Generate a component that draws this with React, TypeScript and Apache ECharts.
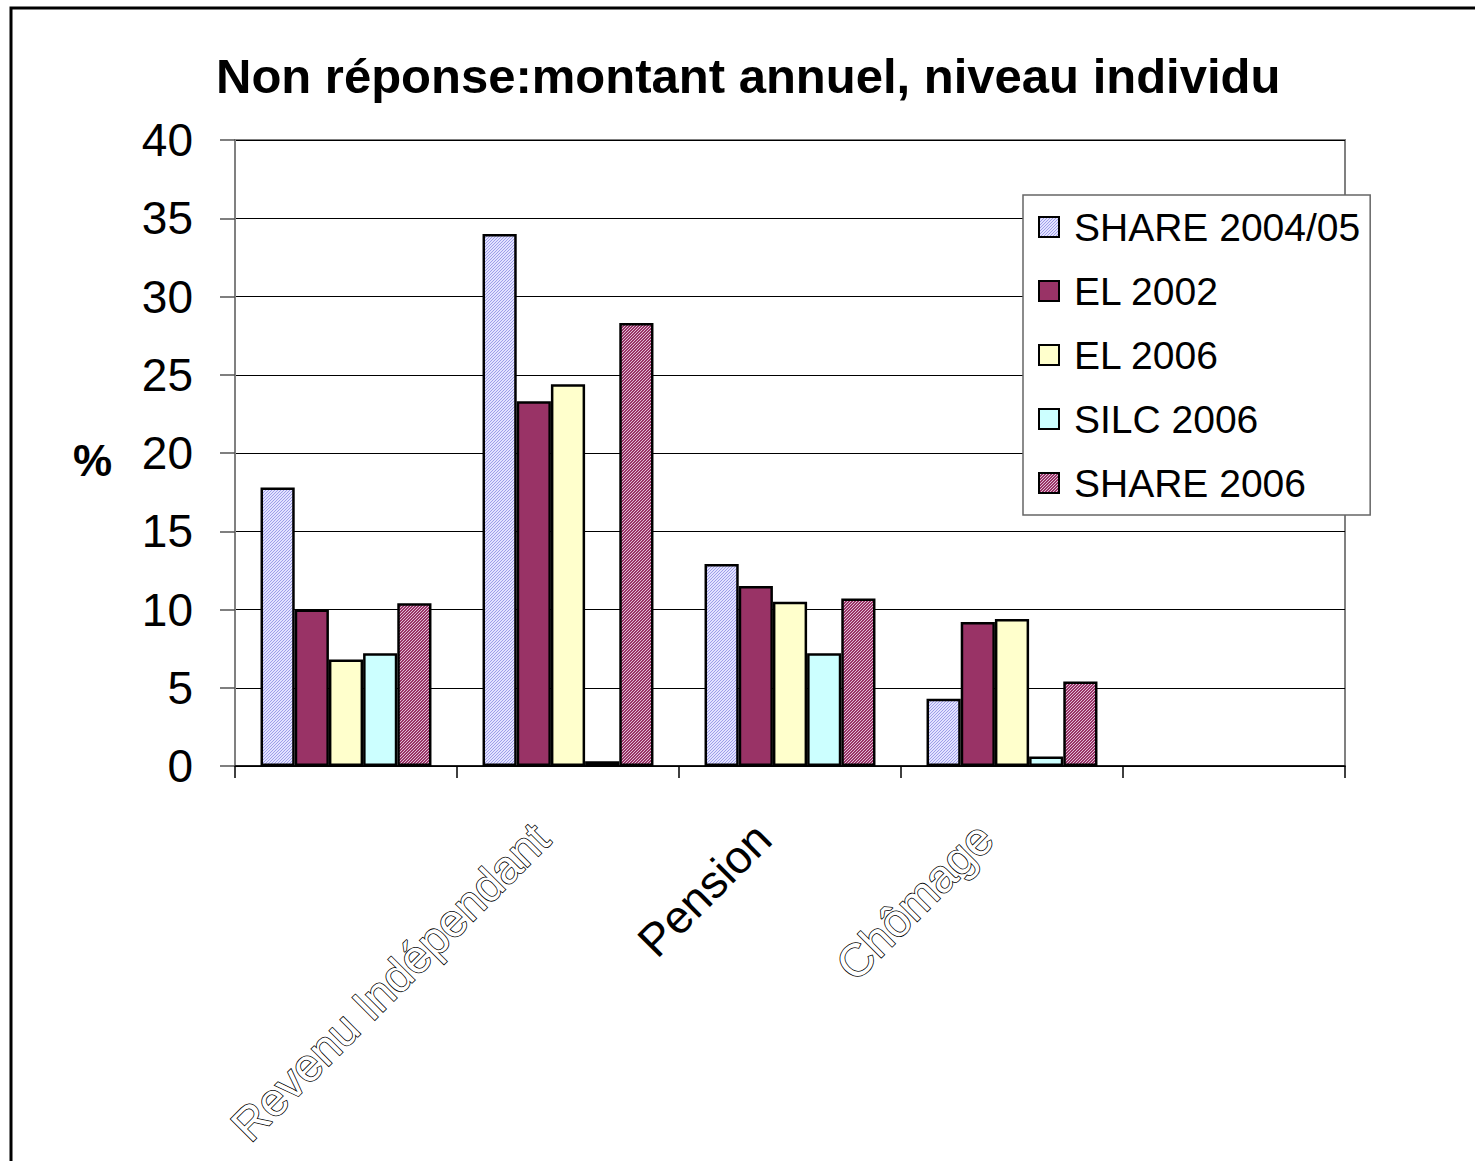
import React, { useEffect, useRef } from "react";
import * as echarts from "echarts";

const categories = ["", "Revenu Indépendant", "Pension", "Chômage", ""];
const seriesNames = ["SHARE 2004/05", "EL 2002", "EL 2006", "SILC 2006", "SHARE 2006"];
const share0405 = [17.8, 34.0, 12.9, 4.3, null];
const el2002 = [10.0, 23.3, 11.5, 9.2, null];
const el2006 = [6.8, 24.4, 10.5, 9.4, null];
const silc2006 = [7.2, 0.3, 7.2, 0.6, null];
const share2006 = [10.4, 28.3, 10.7, 5.4, null];
const yTicks = [0, 5, 10, 15, 20, 25, 30, 35, 40];

function hatch(base: string, line: string, step: number) {
  const c = document.createElement("canvas");
  c.width = step;
  c.height = step;
  const ctx = c.getContext("2d")!;
  ctx.fillStyle = base;
  ctx.fillRect(0, 0, step, step);
  ctx.fillStyle = line;
  for (let x = 0; x < step; x++) {
    const y = (step - 1 - x) % step;
    ctx.fillRect(x, y, 1, 1);
  }
  return { image: c, repeat: "repeat" as const };
}

export default function App() {
  const ref = useRef<HTMLDivElement>(null);
  useEffect(() => {
    if (!ref.current) return;
    const chart = echarts.init(ref.current, null, { renderer: "svg" });
    const lavender = hatch("#e2e2ff", "#9e9ee8", 3);
    const mauve = hatch("#993366", "#e0c0d8", 3);
    const colors: any[] = [lavender, "#993366", "#ffffcc", "#ccffff", mauve];
    const dataSets = [share0405, el2002, el2006, silc2006, share2006];
    const font = "Liberation Sans, Arial, sans-serif";
    chart.setOption({
      animation: false,
      backgroundColor: "#ffffff",
      title: {
        text: "Non réponse:montant annuel, niveau individu",
        left: 211,
        top: 46,
        textStyle: { fontFamily: font, fontSize: 49, fontWeight: "bold", color: "#000" },
      },
      legend: {
        orient: "vertical",
        left: 1023,
        top: 195,
        padding: [10, 10, 10, 15],
        itemGap: 20,
        itemWidth: 20,
        itemHeight: 20,
        icon: "rect",
        borderColor: "#666",
        borderWidth: 1.5,
        backgroundColor: "#fff",
        data: seriesNames,
        textStyle: {
          fontFamily: font,
          fontSize: 39,
          color: "#000",
          lineHeight: 44,
          padding: [0, 0, 0, 10],
        },
      },
      grid: {
        left: 235,
        top: 140,
        right: 130,
        bottom: 395,
        show: true,
        borderColor: "#808080",
        borderWidth: 2,
        backgroundColor: "transparent",
      },
      xAxis: {
        type: "category",
        data: categories,
        axisLine: { lineStyle: { color: "#000", width: 1.5 } },
        axisTick: { show: true, interval: 0, length: 12, lineStyle: { color: "#000", width: 1.5 } },
        axisLabel: {
          interval: 0,
          rotate: 45,
          margin: 38,
          padding: [0, 38, 0, 0],
          fontFamily: font,
          fontSize: 46,
          color: "#000",
          formatter: (v: string, i: number) => (i === 2 ? `{s|${v}}` : `{o|${v}}`),
          rich: {
            s: { fontFamily: font, fontSize: 46, color: "#000" },
            o: { fontFamily: font, fontSize: 46, color: "#fff", textBorderColor: "#000", textBorderWidth: 1.6 },
          },
        },
      },
      yAxis: {
        type: "value",
        min: yTicks[0],
        max: yTicks[yTicks.length - 1],
        interval: 5,
        axisLine: { show: true, lineStyle: { color: "#808080", width: 2 } },
        axisTick: { show: true, length: 15, lineStyle: { color: "#555", width: 1.5 } },
        axisLabel: { fontFamily: font, fontSize: 46, color: "#000", margin: 42 },
        splitLine: { lineStyle: { color: "#000", width: 1 } },
      },
      graphic: [
        {
          type: "rect",
          shape: { x: 11, y: 8, width: 1480, height: 1170 },
          style: { fill: "none", stroke: "#000", lineWidth: 3 },
          silent: true,
          z: 100,
        },
        {
          type: "text",
          x: 73,
          y: 460,
          style: {
            text: "%",
            fontFamily: font,
            fontSize: 44,
            fontWeight: "bold",
            fill: "#000",
            verticalAlign: "middle",
          },
        },
      ],
      series: seriesNames.map((name, k) => ({
        name,
        type: "bar",
        data: dataSets[k],
        barGap: "0%",
        barCategoryGap: "23%",
        itemStyle: { color: colors[k], borderColor: "#000", borderWidth: 2.5 },
      })),
    });
    return () => chart.dispose();
  }, []);
  return (
    <div
      ref={ref}
      style={{ position: "fixed", left: 0, top: 0, width: 1475, height: 1161, background: "#fff" }}
    />
  );
}
